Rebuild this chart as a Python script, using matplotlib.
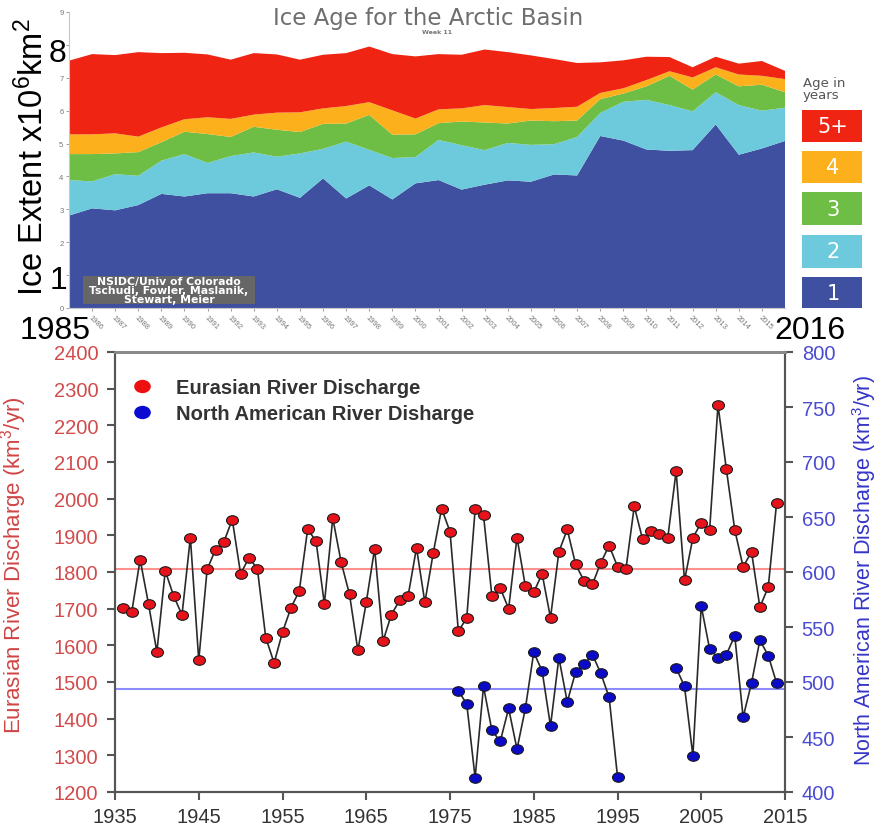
import numpy as np
import matplotlib.pyplot as plt
from matplotlib.patches import Rectangle
from matplotlib.path import Path
from matplotlib.lines import Line2D

plt.rcParams["font.family"] = ["Liberation Sans", "DejaVu Sans"]
plt.rcParams["mathtext.fontset"] = "custom"
plt.rcParams["mathtext.rm"] = "Liberation Sans"
plt.rcParams["mathtext.it"] = "Liberation Sans:italic"

W, H = 880, 829

# Arctic basin ice extent by age class, week 11 (10^6 km^2)
ice_years = list(range(1985, 2017))
age_1 = [2.81, 3.03, 2.97, 3.13, 3.47, 3.39, 3.49, 3.49, 3.39, 3.61, 3.35, 3.94, 3.33, 3.73, 3.30, 3.79,
         3.89, 3.60, 3.75, 3.88, 3.84, 4.06, 4.03, 5.23, 5.09, 4.82, 4.78, 4.80, 5.58, 4.66, 4.85, 5.08]
age_2 = [1.08, 0.82, 1.10, 0.89, 1.01, 1.29, 0.92, 1.13, 1.34, 0.99, 1.35, 0.90, 1.73, 1.08, 1.26, 0.80,
         1.22, 1.35, 1.05, 1.14, 1.12, 0.92, 1.17, 0.70, 1.18, 1.51, 1.39, 1.18, 0.98, 1.51, 1.15, 1.01]
age_3 = [0.79, 0.83, 0.63, 0.72, 0.56, 0.68, 0.88, 0.58, 0.78, 0.82, 0.65, 0.76, 0.55, 1.06, 0.71, 0.69,
         0.51, 0.72, 0.84, 0.59, 0.74, 0.70, 0.50, 0.42, 0.25, 0.41, 0.89, 0.66, 0.54, 0.57, 0.79, 0.47]
age_4 = [0.60, 0.60, 0.61, 0.47, 0.45, 0.38, 0.51, 0.55, 0.37, 0.52, 0.60, 0.47, 0.53, 0.39, 0.74, 0.48,
         0.42, 0.40, 0.53, 0.50, 0.35, 0.40, 0.42, 0.19, 0.16, 0.19, 0.14, 0.37, 0.22, 0.36, 0.27, 0.40]
age_5plus = [2.24, 2.44, 2.38, 2.57, 2.26, 2.02, 1.91, 1.80, 1.87, 1.77, 1.60, 1.63, 1.61, 1.69, 1.71, 1.89,
             1.68, 1.63, 1.69, 1.67, 1.63, 1.49, 1.33, 0.93, 0.85, 0.71, 0.43, 0.31, 0.32, 0.33, 0.45, 0.25]
age_labels = ["1", "2", "3", "4", "5+"]
age_colors = ["#3f50a0", "#6ccadc", "#6ebe46", "#fbb01c", "#f02412"]

# river discharge (km^3/yr)
eur_years = list(range(1936, 2015))
eur_discharge = [1702, 1691, 1834, 1713, 1582, 1803, 1735, 1683, 1894, 1559,
                 1807, 1861, 1882, 1943, 1795, 1839, 1809, 1621, 1552, 1636,
                 1702, 1748, 1916, 1885, 1713, 1947, 1827, 1739, 1586, 1717,
                 1864, 1611, 1684, 1723, 1735, 1866, 1717, 1852, 1973, 1910,
                 1638, 1675, 1971, 1955, 1735, 1756, 1700, 1894, 1761, 1745,
                 1795, 1675, 1855, 1916, 1821, 1776, 1766, 1825, 1872, 1815,
                 1807, 1979, 1889, 1911, 1905, 1893, 2075, 1777, 1893, 1935,
                 1915, 2255, 2080, 1915, 1814, 1855, 1704, 1759, 1989]
na_years = list(range(1976, 2015))
na_discharge = [492, 480, 413, 496, 456, 446, 476, 439, 476, 527,
                510, 460, 522, 482, 509, 516, 525, 508, 486, 414,
                None, None, None, None, None, None,
                513, 496, 433, 569, 530, 522, 525, 542, 468, 499,
                538, 524, 499]
eur_mean = 1809
na_mean = 493.6

WIDE = "DejaVu Sans"


def fx(x):
    return x / W


def fy(y):
    return 1 - y / H


fig = plt.figure(figsize=(8.8, 8.29), dpi=100)

# ---------------- ice age stack ----------------
ax1 = fig.add_axes([fx(69), fy(309), (785 - 69) / W, (309 - 13) / H])
ax1.stackplot(ice_years, age_1, age_2, age_3, age_4, age_5plus, colors=age_colors, lw=0)
ax1.set_xlim(1985, 2016)
ax1.set_ylim(0, 9)
for s in ["top", "right"]:
    ax1.spines[s].set_visible(False)
for s in ["left", "bottom"]:
    ax1.spines[s].set_color("#c8c8c8")
    ax1.spines[s].set_linewidth(0.8)
ax1.set_yticks(range(10))
ax1.set_yticklabels(["" if v in (1, 8) else str(v) for v in range(10)])
ax1.set_xticks(range(1986, 2016))
ax1.set_xticklabels([str(y) for y in range(1986, 2016)], rotation=-45, ha="left", va="top",
                    rotation_mode="anchor")
ax1.tick_params(labelsize=5.5, colors="#777777", length=2, width=0.5, pad=2)

fig.text(fx(428), fy(18), "Ice Age for the Arctic Basin", ha="center", va="center",
         fontsize=16.5, color="#6e6e6e", family=WIDE)
fig.text(fx(437), fy(33), "Week 11", ha="center", va="center", fontsize=4.5,
         color="#777777", weight="bold", family=WIDE)

# credit box
fig.add_artist(Rectangle((fx(83), fy(305)), (255 - 83) / W, (305 - 277) / H,
                         transform=fig.transFigure, color="#666666", lw=0))
fig.text(fx(169), fy(291), "NSIDC/Univ of Colorado\nTschudi, Fowler, Maslanik,\nStewart, Meier",
         ha="center", va="center", fontsize=7.8, color="white", weight="bold", family=WIDE,
         linespacing=0.82)

# age legend
fig.text(fx(803), fy(90), "Age in\nyears", ha="left", va="center", fontsize=9.5,
         color="#555555", linespacing=0.9, family=WIDE)
boxes = [(110.7, 142.7), (151.7, 184), (193.3, 226), (236, 268.7), (278.3, 309.3)]
for (y0, y1), lab, col in zip(boxes, age_labels[::-1], age_colors[::-1]):
    fig.add_artist(Rectangle((fx(802), fy(y1)), 60 / W, (y1 - y0) / H,
                             transform=fig.transFigure, color=col, lw=0))
    fig.text(fx(833), fy((y0 + y1) / 2), lab, ha="center", va="center",
             fontsize=15, color="white", family=WIDE)

# large overlay labels
fig.text(fx(33), fy(157), "Ice Extent x10$^6$km$^2$", rotation=90, ha="center", va="center",
         fontsize=23.5, color="black")
fig.text(fx(58), fy(54), "8", ha="center", va="center", fontsize=23)
fig.text(fx(58), fy(281), "1", ha="center", va="center", fontsize=23)
fig.text(fx(55), fy(331), "1985", ha="center", va="center", fontsize=23)
fig.text(fx(810), fy(331), "2016", ha="center", va="center", fontsize=23,
         bbox=dict(facecolor="white", edgecolor="none", pad=0))

# ---------------- river discharge ----------------
ax2 = fig.add_axes([fx(115), fy(793), (785 - 115) / W, (793 - 353) / H])
ax3 = ax2.twinx()
ax2.set_xlim(1935, 2015)
ax2.set_ylim(1200, 2400)
ax3.set_ylim(400, 800)

# slightly flattened circle marker
circ = Path.unit_circle()
ellipse = Path(circ.vertices * [1.0, 0.8], circ.codes)

ax2.axhline(eur_mean, color="#ff9090", lw=1.5, zorder=1)
ax3.axhline(na_mean, color="#8c8cff", lw=1.5, zorder=1)
ax2.plot(eur_years, eur_discharge, color="#2a2a2a", lw=1.2, marker=ellipse, ms=8.6,
         mfc="#e8121a", mec="#1a1a1a", mew=0.8, zorder=3)
na_vals = np.array([np.nan if v is None else v for v in na_discharge], dtype=float)
ax3.plot(na_years, na_vals, color="#2a2a2a", lw=1.2, marker=ellipse, ms=8.6,
         mfc="#0a0ac8", mec="#1a1a1a", mew=0.8, zorder=3)

ax2.set_xticks(range(1935, 2016, 10))
ax2.set_yticks(range(1200, 2401, 100))
ax3.set_yticks(range(400, 801, 50))
ax2.tick_params(axis="x", labelsize=14.5, labelcolor="#333333", direction="out",
                length=6, width=1.5, color="#555555", pad=5)
ax2.tick_params(axis="y", labelsize=14.5, labelcolor="#d24b4b", direction="out",
                length=6, width=1.5, color="#555555", pad=6)
ax3.tick_params(axis="y", labelsize=14.5, labelcolor="#4b4bd2", direction="out",
                length=6, width=1.5, color="#555555", pad=6)
for ax in (ax2, ax3):
    for s in ax.spines.values():
        s.set_color("#555555")
        s.set_linewidth(1.5)
    ax.spines["top"].set_color("#8a8a8a")
    ax.spines["top"].set_linewidth(2)

handles = [
    Line2D([], [], ls="none", marker=ellipse, ms=12, mfc="#ee1010", mec="none"),
    Line2D([], [], ls="none", marker=ellipse, ms=12, mfc="#0a0ad0", mec="none"),
]
leg = ax3.legend(handles, ["Eurasian River Discharge", "North American River Disharge"],
                 loc="upper left", bbox_to_anchor=(fx(132), fy(379)), bbox_transform=fig.transFigure,
                 frameon=False, handlelength=1.0, handletextpad=1.2, labelspacing=0.33,
                 borderaxespad=0, borderpad=0, prop=dict(size=14.5, weight="bold"))
for t in leg.get_texts():
    t.set_color("#333333")

fig.text(fx(14), fy(565), "Eurasian River Discharge (km$^3$/yr)", rotation=90, ha="center",
         va="center", fontsize=16, color="#d04545")
fig.text(fx(864), fy(571), "North American River Discharge (km$^3$/yr)", rotation=90, ha="center",
         va="center", fontsize=15.5, color="#3535c8")

fig.savefig("out.png", dpi=100)
